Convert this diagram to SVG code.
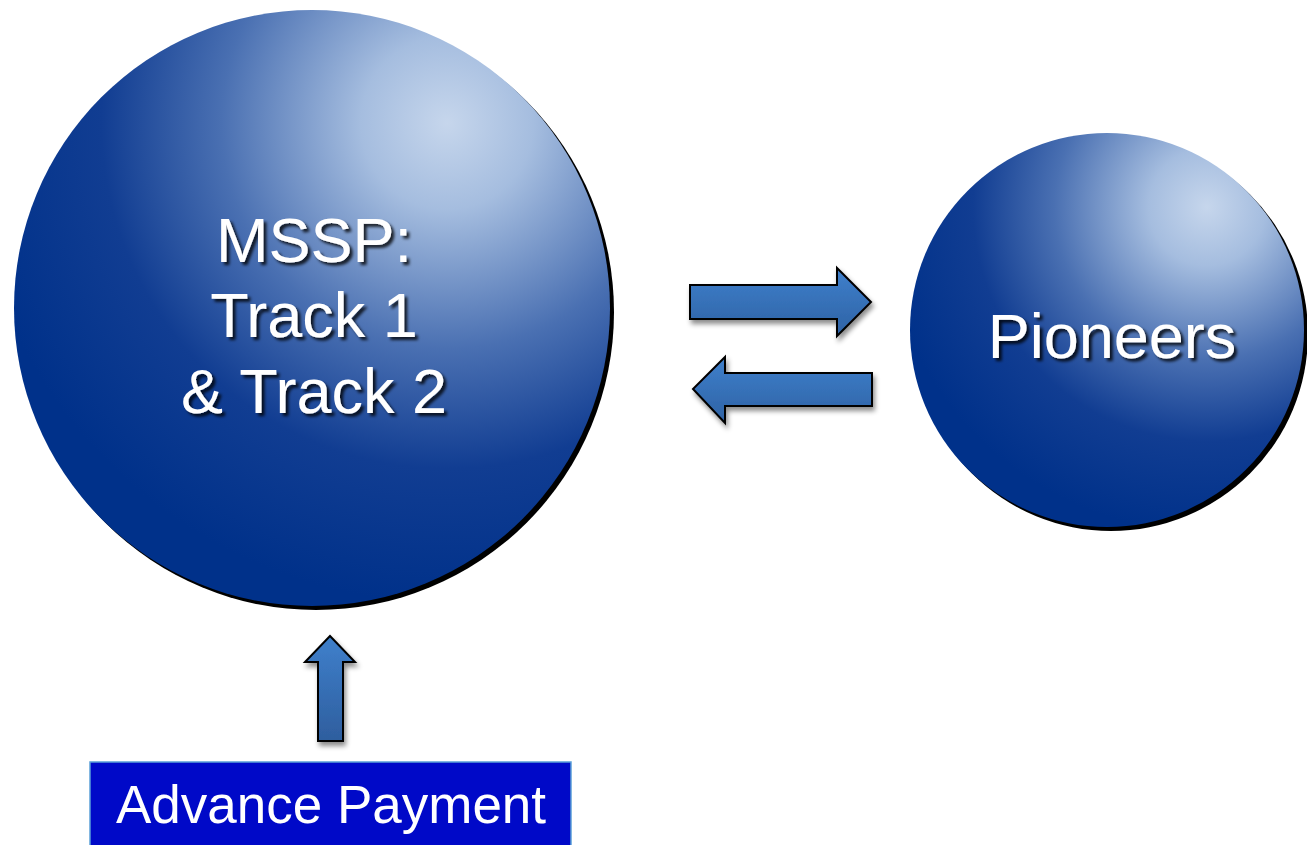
<svg xmlns="http://www.w3.org/2000/svg" width="1307" height="845" viewBox="0 0 1307 845">
<defs>
<radialGradient id="g1" gradientUnits="userSpaceOnUse" cx="447" cy="123" r="480">
<stop offset="0" stop-color="#c6d6ec"/>
<stop offset="0.18" stop-color="#a5bddf"/>
<stop offset="0.47" stop-color="#4a70b2"/>
<stop offset="0.72" stop-color="#113d92"/>
<stop offset="1" stop-color="#00318a"/>
</radialGradient>
<radialGradient id="g2" gradientUnits="userSpaceOnUse" cx="1207" cy="207" r="325">
<stop offset="0" stop-color="#c6d6ec"/>
<stop offset="0.18" stop-color="#a5bddf"/>
<stop offset="0.47" stop-color="#4a70b2"/>
<stop offset="0.72" stop-color="#113d92"/>
<stop offset="1" stop-color="#00318a"/>
</radialGradient>
<linearGradient id="ah" x1="0" y1="0" x2="0" y2="1">
<stop offset="0" stop-color="#3f80cc"/>
<stop offset="1" stop-color="#2e62a4"/>
</linearGradient>
<linearGradient id="av" x1="0" y1="0" x2="0" y2="1">
<stop offset="0" stop-color="#3f80cc"/>
<stop offset="1" stop-color="#2e5e9e"/>
</linearGradient>
<filter id="ts" x="-10%" y="-10%" width="130%" height="140%">
<feGaussianBlur in="SourceAlpha" stdDeviation="1.5"/>
<feOffset dx="3" dy="3" result="b"/>
<feFlood flood-color="#000" flood-opacity="0.8"/>
<feComposite in2="b" operator="in"/>
<feMerge><feMergeNode/><feMergeNode in="SourceGraphic"/></feMerge>
</filter>
<filter id="as" x="-20%" y="-20%" width="150%" height="150%">
<feGaussianBlur in="SourceAlpha" stdDeviation="2.5"/>
<feOffset dx="2" dy="4" result="b"/>
<feFlood flood-color="#000" flood-opacity="0.45"/>
<feComposite in2="b" operator="in"/>
<feMerge><feMergeNode/><feMergeNode in="SourceGraphic"/></feMerge>
</filter>
<style>
.lbl{font-family:"Liberation Sans",Arial,sans-serif;fill:#fff;text-anchor:middle}
.arr{stroke:#000;stroke-width:2;stroke-linejoin:miter}
</style>
</defs>
<rect width="1307" height="845" fill="#fff"/>
<g id="mssp">
<circle cx="316" cy="312" r="298" fill="#000"/>
<circle cx="312" cy="308" r="298" fill="url(#g1)"/>
<g class="lbl" font-size="63" filter="url(#ts)">
<text x="314" y="262">MSSP:</text>
<text x="314" y="337">Track 1</text>
<text x="314" y="413">&amp; Track 2</text>
</g>
</g>
<g id="pioneers">
<circle cx="1111" cy="334" r="197" fill="#000"/>
<circle cx="1107" cy="330" r="197" fill="url(#g2)"/>
<text class="lbl" x="1112" y="358" font-size="63" filter="url(#ts)">Pioneers</text>
</g>
<g id="advance">
<rect x="90" y="762" width="481" height="90" fill="#0009c8" stroke="#5aa0d8" stroke-width="1.5"/>
<text class="lbl" x="331" y="823" font-size="53">Advance Payment</text>
</g>
<g id="connectors" filter="url(#as)">
<path class="arr" fill="url(#ah)" d="M690,285 L837,285 L837,268 L871,302 L837,336 L837,319 L690,319 Z"/>
<path class="arr" fill="url(#ah)" d="M872,373 L725,373 L725,357 L693,389 L725,423 L725,406 L872,406 Z"/>
<path class="arr" fill="url(#av)" d="M318,741 L318,662 L305,662 L330,636 L355,662 L343,662 L343,741 Z"/>
</g>
</svg>
